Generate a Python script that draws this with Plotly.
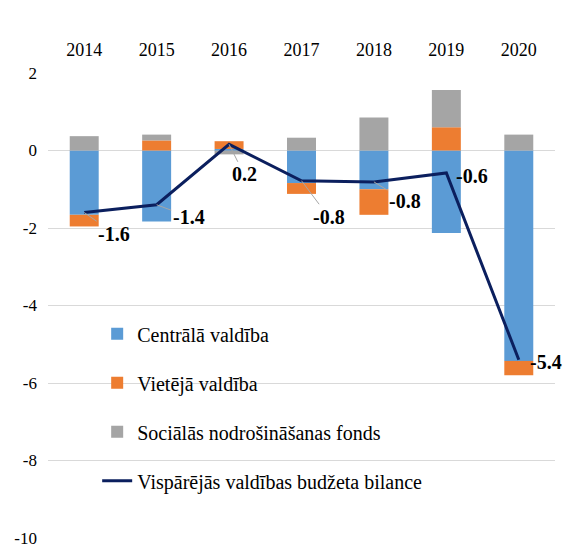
import plotly.graph_objects as go

years = ["2014", "2015", "2016", "2017", "2018", "2019", "2020"]
central = [-1.66, -1.83, 0.04, -0.84, -1.00, -2.13, -5.43]
local = [-0.30, 0.26, 0.20, -0.28, -0.66, 0.60, -0.37]
social = [0.37, 0.15, -0.10, 0.33, 0.85, 0.96, 0.41]
balance = [-1.6, -1.4, 0.16, -0.78, -0.81, -0.58, -5.4]
y_ticks = [2, 0, -2, -4, -6, -8, -10]

names = ["Centrālā valdība", "Vietējā valdība", "Sociālās nodrošināšanas fonds",
         "Vispārējās valdības budžeta bilance"]
colors = ["#5B9BD5", "#ED7D31", "#A5A5A5"]
FONT = "Liberation Serif"

fig = go.Figure()
for i, vals in enumerate([central, local, social]):
    fig.add_trace(go.Bar(x=years, y=vals, name=names[i], marker_color=colors[i],
                         marker_line_width=0, legendgroup=f"g{i}"))
fig.add_trace(go.Scatter(x=years, y=balance, name=names[3], mode="lines",
                         line=dict(color="#0B1F5E", width=3), legendgroup="g3"))

# label offsets (pixel styling)
offsets = [(30, 21, True), (32, 12, True), (15, 30, True), (27, 36, True),
           (31, 19, True), (26, 3, False), (27, 2, False)]
for idx, (v, (dx, dy, arrow)) in enumerate(zip(balance, offsets)):
    txt = "<b>" + f"{v:.1f}" + "</b>"
    if arrow:
        fig.add_annotation(x=idx, y=v, text=txt, showarrow=True, ax=dx, ay=dy,
                           arrowhead=0, arrowwidth=1, arrowcolor="#A6A6A6", standoff=0,
                           font=dict(family=FONT, size=20, color="black"))
    else:
        fig.add_annotation(x=idx, y=v, text=txt, showarrow=False, xshift=dx, yshift=-dy,
                           font=dict(family=FONT, size=20, color="black"))

fig.update_layout(
    width=564, height=544,
    barmode="relative", bargap=0.6,
    paper_bgcolor="white", plot_bgcolor="white",
    margin=dict(l=48, r=9, t=73, b=6, autoexpand=False),
    font=dict(family=FONT, size=16, color="black"),
    showlegend=True,
    legend=dict(x=0.097, y=0.481, xanchor="left", yanchor="top",
                bgcolor="rgba(0,0,0,0)", font=dict(family=FONT, size=20),
                tracegroupgap=20, traceorder="grouped"),
)
fig.update_xaxes(type="category", range=[-0.5, 6.5], side="top", showgrid=False,
                 showline=False, ticks="", tickfont=dict(family=FONT, size=18),
                 ticklabelstandoff=12)
fig.update_yaxes(range=[-10, 2], tickvals=y_ticks, ticktext=[str(t) for t in y_ticks],
                 showgrid=True, gridcolor="#D9D9D9",
                 gridwidth=1, zeroline=True, zerolinecolor="#D9D9D9", zerolinewidth=1,
                 showline=False, ticks="", tickfont=dict(family=FONT, size=17),
                 ticklabelstandoff=10, ticklabeloverflow="allow")

fig.write_html("out.html", config={"displayModeBar": False},
               post_script="document.body.style.margin='0';document.body.style.overflow='hidden';")
